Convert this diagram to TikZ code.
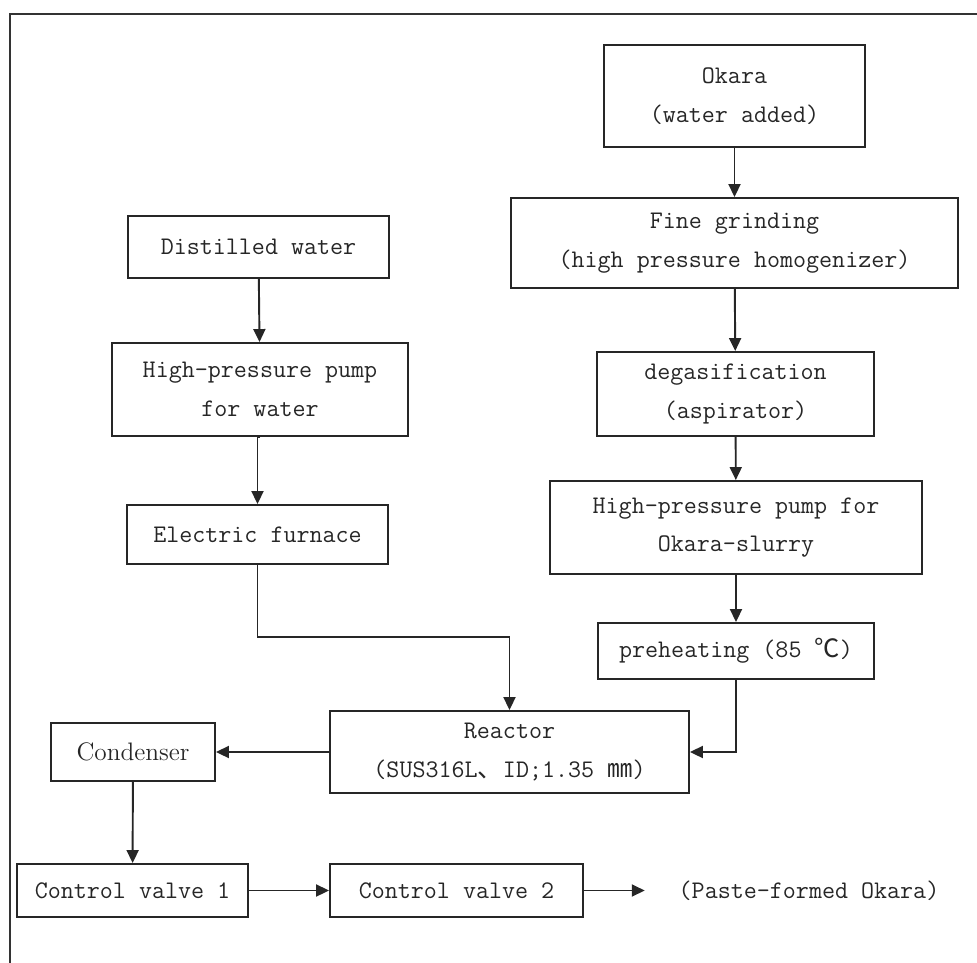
\documentclass[tikz,border=0pt]{standalone}
\usepackage{fontspec}
\newfontfamily\cjk{Noto Sans CJK SC}
\usetikzlibrary{arrows.meta}

\begin{document}
\begin{tikzpicture}[x=0.02cm,y=-0.02cm,
 box/.style={draw=black!85,line width=1.1pt,text=black!85,align=center,inner sep=0pt,
  font=\ttfamily\fontsize{14.4}{22}\selectfont},
 flow/.style={draw=black!85,line width=1.1pt,-{Triangle[length=0.26cm,width=0.24cm]}}]
 \useasboundingbox (0,0) rectangle (977,963);
 \draw[line width=1.4pt,black!80] (977,14) -- (10,14) -- (10,963);
 % okara line
 \node[box,minimum width=5.22cm,minimum height=2.04cm] (okara) at (734.5,96) {Okara\\(water added)};
 \node[box,minimum width=8.94cm,minimum height=1.8cm] (grind) at (734.5,243) {Fine grinding\\(high pressure homogenizer)};
 \node[box,minimum width=5.54cm,minimum height=1.68cm] (degas) at (735.5,394) {degasification\\(aspirator)};
 \node[box,minimum width=7.44cm,minimum height=1.86cm] (pumpo) at (736,527.5) {High-pressure pump for\\Okara-slurry};
 \node[box,minimum width=5.52cm,minimum height=1.12cm] (preheat) at (736,651) {preheating (85 {\cjk ℃})};
 % water line
 \node[box,minimum width=5.22cm,minimum height=1.24cm] (water) at (258.5,247) {Distilled water};
 \node[box,minimum width=5.92cm,minimum height=1.86cm] (pumpw) at (260,389.5) {High-pressure pump\\for water};
 \node[box,minimum width=5.22cm,minimum height=1.18cm] (furnace) at (257.5,534.5) {Electric furnace};
 \node[box,minimum width=7.18cm,minimum height=1.64cm] (reactor) at (509.5,752) {Reactor\\(SUS316L{\cjk 、}ID;1.35 {\cjk ㎜})};
 \node[box,minimum width=3.28cm,minimum height=1.16cm,font=\rmfamily\fontsize{14.4}{22}\selectfont] (cond) at (133,752) {Condenser};
 \node[box,minimum width=4.62cm,minimum height=1.06cm] (valveA) at (132.5,890.5) {Control valve 1};
 \node[box,minimum width=5.06cm,minimum height=1.06cm] (valveB) at (456.5,890.5) {Control valve 2};
 \node[box,draw=none,inner xsep=0.66cm] (paste) at (809,890.5) {(Paste-formed Okara)};
 \coordinate (fbend) at (257.5,637);

 \draw[flow] (okara) -- (grind);
 \draw[flow] (grind) -- (degas);
 \draw[flow] (degas) -- (pumpo);
 \draw[flow] (pumpo) -- (preheat);
 \draw[flow] (water) -- (pumpw);
 \draw[flow] (pumpw.south) -- (pumpw.south -| furnace.north) -- (furnace.north);
 \draw[flow] (furnace.south) -- (fbend) -| (reactor.north);
 \draw[flow] (preheat.south) |- (reactor.east);
 \draw[flow] (reactor) -- (cond);
 \draw[flow] (cond) -- (valveA);
 \draw[flow] (valveA) -- (valveB);
 \draw[flow] (valveB) -- (paste);
\end{tikzpicture}
\end{document}
